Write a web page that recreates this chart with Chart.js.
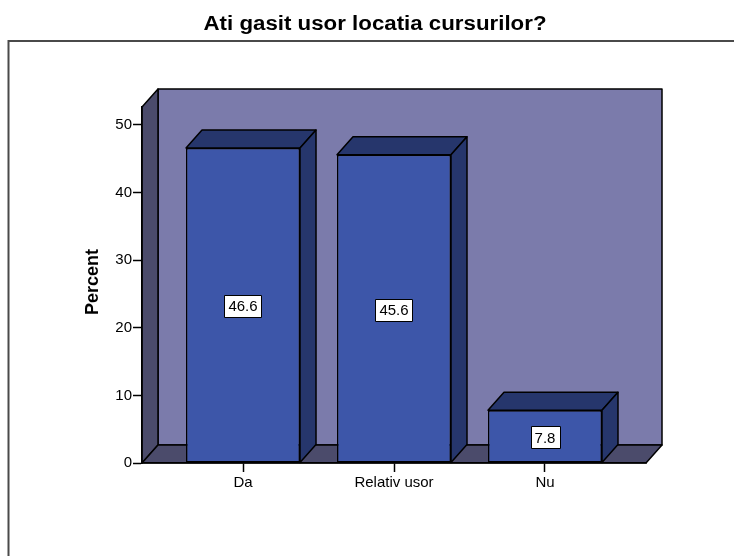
<!DOCTYPE html>
<html>
<head>
<meta charset="utf-8">
<script src="https://cdn.jsdelivr.net/npm/chart.js@4.4.1/dist/chart.umd.min.js"></script>
<style>
    html, body { margin: 0; padding: 0; background: #fff; }
    #wrap { width: 734px; height: 556px; }
</style>
</head>
<body>
<div id="wrap"><canvas id="chart" width="734" height="556"></canvas></div>
<script>
const chartTitle = 'Ati gasit usor locatia cursurilor?';
const axisTitle = 'Percent';
const categories = ['Da', 'Relativ usor', 'Nu'];
const percents = [46.6, 45.6, 7.8];
const yTicks = [0, 10, 20, 30, 40, 50];

const DX = 16, DY = 18;
const FONT = '"Liberation Sans", Arial, sans-serif';

function poly(ctx, pts, fill) {
    ctx.beginPath();
    ctx.moveTo(pts[0][0], pts[0][1]);
    pts.slice(1).forEach(p => ctx.lineTo(p[0], p[1]));
    ctx.closePath();
    ctx.fillStyle = fill;
    ctx.fill();
    ctx.stroke();
}

// walls, floor, bar depth faces, labels
const box3d = {
    id: 'box3d',
    beforeDraw(chart) {
        const { ctx, chartArea: a } = chart;
        ctx.save();
        ctx.fillStyle = '#fff';
        ctx.fillRect(0, 0, chart.width, chart.height);

        // outer frame
        ctx.strokeStyle = '#4a4a4a';
        ctx.lineWidth = 2;
        ctx.beginPath();
        ctx.moveTo(8.5, chart.height);
        ctx.lineTo(8.5, 41);
        ctx.lineTo(chart.width, 41);
        ctx.stroke();

        ctx.strokeStyle = '#000';
        ctx.lineWidth = 1.5;
        ctx.lineJoin = 'round';
        poly(ctx, [[a.left + DX, a.top - DY], [a.right + DX, a.top - DY], [a.right + DX, a.bottom - DY], [a.left + DX, a.bottom - DY]], '#7b7bab');
        poly(ctx, [[a.left, a.top], [a.left + DX, a.top - DY], [a.left + DX, a.bottom - DY], [a.left, a.bottom]], '#4b4b6b');
        poly(ctx, [[a.left, a.bottom], [a.left + DX, a.bottom - DY], [a.right + DX, a.bottom - DY], [a.right, a.bottom]], '#4b4b6b');
        ctx.restore();
    },
    afterDatasetsDraw(chart) {
        const { ctx } = chart;
        const meta = chart.getDatasetMeta(0);
        ctx.save();
        ctx.strokeStyle = '#000';
        ctx.lineWidth = 1.5;
        ctx.lineJoin = 'round';
        meta.data.forEach((bar, i) => {
            const l = bar.x - bar.width / 2, r = bar.x + bar.width / 2;
            poly(ctx, [[l, bar.y], [l + DX, bar.y - DY], [r + DX, bar.y - DY], [r, bar.y]], '#26366c');
            poly(ctx, [[r, bar.y], [r + DX, bar.y - DY], [r + DX, bar.base - DY], [r, bar.base]], '#26366c');

            const txt = percents[i].toFixed(1);
            ctx.font = '15px ' + FONT;
            const w = ctx.measureText(txt).width + 8, h = 22;
            const cy = (bar.y + bar.base) / 2 + 1;
            ctx.fillStyle = '#fff';
            ctx.lineWidth = 1;
            ctx.fillRect(Math.round(bar.x - w / 2) + 0.5, Math.round(cy - h / 2) + 0.5, Math.round(w), h);
            ctx.strokeRect(Math.round(bar.x - w / 2) + 0.5, Math.round(cy - h / 2) + 0.5, Math.round(w), h);
            ctx.fillStyle = '#000';
            ctx.textAlign = 'center';
            ctx.textBaseline = 'middle';
            ctx.fillText(txt, bar.x, cy + 1);
            ctx.lineWidth = 1.5;
        });
        ctx.restore();
    },
    afterDraw(chart) {
        const { ctx } = chart;
        ctx.save();
        ctx.fillStyle = '#000';
        ctx.font = 'bold 20px ' + FONT;
        const tw = ctx.measureText(chartTitle).width;
        ctx.translate(375, 30);
        ctx.scale(343 / tw, 1);
        ctx.textAlign = 'center';
        ctx.textBaseline = 'alphabetic';
        ctx.fillText(chartTitle, 0, 0);
        ctx.restore();

        ctx.save();
        ctx.fillStyle = '#000';
        ctx.font = 'bold 18px ' + FONT;
        ctx.translate(98, 282);
        ctx.rotate(-Math.PI / 2);
        ctx.textAlign = 'center';
        ctx.textBaseline = 'alphabetic';
        ctx.fillText(axisTitle, 0, 0);
        ctx.restore();
    }
};

new Chart(document.getElementById('chart'), {
    type: 'bar',
    data: {
        datasets: [{
            data: percents.map((v, i) => ({ x: i, y: v })),
            backgroundColor: '#3d56a9',
            borderColor: '#000',
            borderWidth: 1.5,
            borderSkipped: false,
            categoryPercentage: 1,
            barPercentage: 0.755,
        }]
    },
    options: {
        responsive: false,
        animation: false,
        layout: { padding: { top: 107, right: 88, bottom: 0, left: 0 } },
        plugins: { legend: { display: false }, tooltip: { enabled: false } },
        scales: {
            x: {
                type: 'linear',
                offset: false,
                min: -0.669,
                max: 2.669,
                afterBuildTicks: s => { s.ticks = categories.map((c, i) => ({ value: i })); },
                afterFit: s => { s.height = 93; },
                ticks: {
                    callback: v => categories[v],
                    color: '#000',
                    font: { family: FONT, size: 15 },
                    padding: 2,
                    maxRotation: 0,
                },
                grid: { offset: false, drawOnChartArea: false, tickLength: 9, color: '#000', tickWidth: 1.5 },
                border: { display: true, color: '#000', width: 1.5 },
            },
            y: {
                min: 0,
                max: 52.66,
                afterBuildTicks: s => { s.ticks = yTicks.map(v => ({ value: v })); },
                afterFit: s => { s.width = 142; },
                ticks: {
                    color: '#000',
                    font: { family: FONT, size: 15 },
                    padding: 1,
                },
                grid: { drawOnChartArea: false, tickLength: 9, color: '#000', tickWidth: 1.5 },
                border: { display: true, color: '#000', width: 1.5 },
            }
        }
    },
    plugins: [box3d]
});
</script>
</body>
</html>
